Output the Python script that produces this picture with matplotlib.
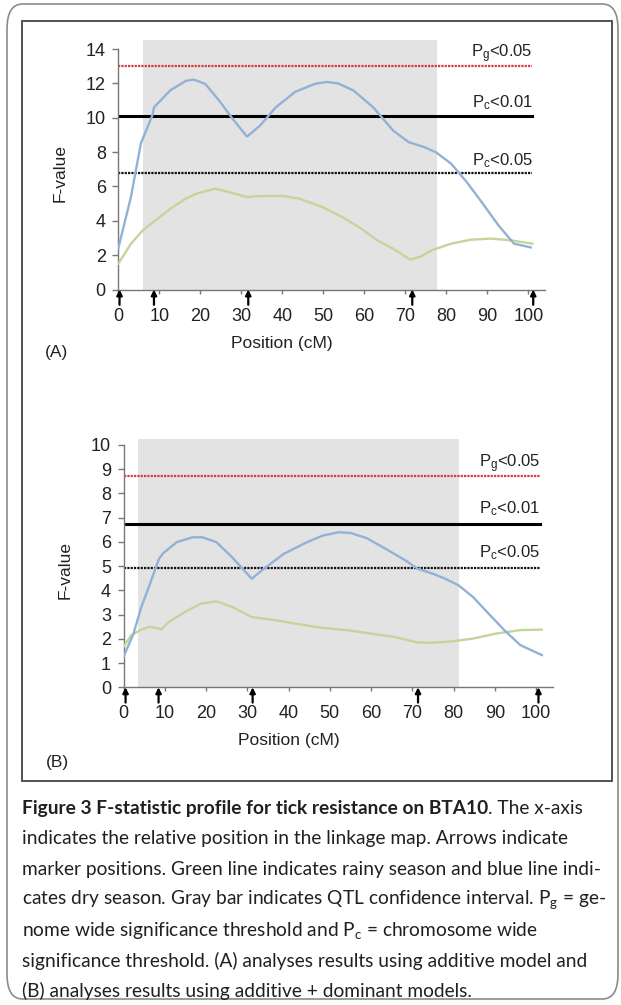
import matplotlib
matplotlib.use("Agg")
import matplotlib.pyplot as plt
from matplotlib.patches import FancyBboxPatch, Rectangle


# DATA
pos_a_blue = [0, 3.1, 5.5, 8.4, 8.7, 12.7, 16.5, 18.4, 21.2, 24.6, 27.9, 31.4, 34.6, 38.4, 43.1,
              47.9, 50.8, 53.6, 57.4, 62.2, 67.0, 70.8, 74.6, 77.4, 81.2, 85.0, 88.9, 92.7, 96.5, 100.6]
f_a_blue = [2.4, 5.4, 8.5, 10.2, 10.6, 11.6, 12.15, 12.22, 11.97, 11.0, 9.93, 8.9, 9.55, 10.6, 11.5,
            11.97, 12.08, 12.0, 11.58, 10.6, 9.26, 8.58, 8.29, 8.0, 7.32, 6.25, 5.0, 3.74, 2.67, 2.45]
pos_a_green = [0, 3.1, 6.0, 8.9, 12.7, 16.5, 19.3, 23.6, 27.0, 31.4, 34.6, 40.3, 44.1, 49.8, 54.6,
               59.3, 63.1, 67.0, 71.2, 73.6, 76.5, 81.2, 86.0, 90.8, 95.5, 101.0]
f_a_green = [1.5, 2.67, 3.45, 4.0, 4.7, 5.3, 5.6, 5.87, 5.67, 5.38, 5.44, 5.44, 5.29, 4.8, 4.22,
             3.54, 2.87, 2.38, 1.74, 1.9, 2.29, 2.67, 2.9, 2.96, 2.87, 2.67]

pos_b_blue = [0, 2.4, 4.3, 6.7, 8.6, 9.6, 12.9, 16.7, 19.1, 22.5, 26.3, 31.1, 34.0, 38.8, 44.5,
              48.3, 52.2, 55.0, 58.9, 63.6, 68.4, 71.3, 75.1, 78.0, 81.3, 84.7, 88.5, 92.3, 96.2, 101.4]
f_b_blue = [1.26, 2.2, 3.3, 4.4, 5.3, 5.53, 5.99, 6.19, 6.19, 5.99, 5.37, 4.48, 4.89, 5.5, 5.99,
            6.26, 6.4, 6.37, 6.16, 5.71, 5.23, 4.89, 4.68, 4.48, 4.2, 3.73, 3.04, 2.36, 1.74, 1.33]
pos_b_green = [0, 1.9, 4.3, 6.2, 8.1, 9.1, 11.0, 14.8, 18.7, 22.5, 26.3, 31.1, 36.8, 42.6, 48.3,
               54.1, 59.8, 65.6, 71.3, 75.1, 79.9, 84.7, 90.4, 96.2, 101.4]
f_b_green = [1.67, 2.15, 2.38, 2.49, 2.45, 2.38, 2.7, 3.1, 3.45, 3.55, 3.32, 2.9, 2.77, 2.6, 2.45,
             2.36, 2.22, 2.08, 1.85, 1.84, 1.9, 2.01, 2.22, 2.36, 2.38]

markers_a = [0.3, 8.7, 31.7, 71.7, 101.2]
markers_b = [0.5, 8.5, 31.3, 71.4, 100.6]

ci_a = (6.0, 77.7, 14.55)   # start, end, top of gray bar
ci_b = (3.4, 81.3, 10.23)

thr_a = {"pg": 13.0, "pc01": 10.1, "pc05": 6.78}
thr_b = {"pg": 8.73, "pc01": 6.74, "pc05": 4.92}

caption_bold = "Figure 3 F-statistic profile for tick resistance on BTA10"
caption_lines = [
    ". The x-axis",
    "indicates the relative position in the linkage map. Arrows indicate",
    "marker positions. Green line indicates rainy season and blue line indi-",
    "cates dry season. Gray bar indicates QTL confidence interval. P$_g$ = ge-",
    "nome wide significance threshold and P$_c$ = chromosome wide",
    "significance threshold. (A) analyses results using additive model and",
    "(B) analyses results using additive + dominant models.",
]

plt.rcParams["font.family"] = ["Liberation Sans", "DejaVu Sans"]
plt.rcParams["mathtext.default"] = "regular"

W, H = 621, 1005
BLUE = "#93b1d6"
GREEN = "#c4d59c"
RED = "#d9383e"
SHADE = "#e3e3e3"
AXC = "#777777"
TXT = "#222222"


def draw_panel(ax, pb, fb, pg, fg, markers, ci, thr, ytop, yticks, label_y):
    ax.set_xlim(0, 104)
    ax.set_ylim(0, ytop)

    ax.add_patch(Rectangle((ci[0], 0), ci[1] - ci[0], ci[2], facecolor=SHADE,
                           edgecolor="none", zorder=0))

    ax.plot([0, 101], [thr["pg"]] * 2, color=RED, lw=1.6, ls=(0, (1, 0.5)), zorder=2)
    ax.plot([0, 101], [thr["pc01"]] * 2, color="black", lw=2.2, zorder=2)
    ax.plot([0, 101], [thr["pc05"]] * 2, color="#111111", lw=1.6, ls=(0, (1, 0.5)), zorder=2)

    ax.plot(pg, fg, color=GREEN, lw=1.7, zorder=3)
    ax.plot(pb, fb, color=BLUE, lw=1.7, zorder=3)

    labels = ["P$_g$<0.05", "P$_c$<0.01", "P$_c$<0.05"]
    for lab, yy in zip(labels, label_y):
        ax.text(101, yy, lab, ha="right", va="center", fontsize=12, color=TXT)

    for m in markers:
        ax.annotate("", xy=(m, 0), xycoords=ax.get_xaxis_transform(),
                    xytext=(0, -11), textcoords="offset points",
                    arrowprops=dict(arrowstyle="-|>", color="black", lw=1.6,
                                    mutation_scale=8, shrinkA=0, shrinkB=0),
                    annotation_clip=False, zorder=5)

    for s in ["top", "right"]:
        ax.spines[s].set_visible(False)
    for s in ["left", "bottom"]:
        ax.spines[s].set_color(AXC)
        ax.spines[s].set_linewidth(1.0)
    ax.spines["left"].set_bounds(0, yticks[-1])
    ax.set_xticks(range(0, 101, 10))
    ax.set_yticks(yticks)
    ax.tick_params(axis="x", length=3, width=1, color=AXC, pad=10, labelsize=13, labelcolor=TXT)
    ax.tick_params(axis="y", length=4, width=1, color=AXC, pad=5, labelsize=13, labelcolor=TXT)
    ax.set_facecolor("none")


fig = plt.figure(figsize=(W / 100, H / 100), dpi=100)

# outer rounded frame and inner box
fig.patches.append(FancyBboxPatch((7 / W, 6 / H), 611 / W, 995 / H,
                                  boxstyle="round,pad=0,rounding_size=0.025",
                                  transform=fig.transFigure, facecolor="none",
                                  edgecolor="#8c8c8c", lw=1.2, zorder=0))
fig.patches.append(Rectangle((22 / W, (H - 781) / H), 589.5 / W, 760 / H,
                             transform=fig.transFigure, facecolor="none",
                             edgecolor="#444444", lw=1.3, zorder=1))

ax_a = fig.add_axes([118.3 / W, (H - 289.5) / H, 426.4 / W, 250.8 / H])
ax_b = fig.add_axes([123.5 / W, (H - 687.3) / H, 429.0 / W, 248.4 / H])

draw_panel(ax_a, pos_a_blue, f_a_blue, pos_a_green, f_a_green, markers_a, ci_a, thr_a,
           14.6, list(range(0, 15, 2)), [13.75, 10.9, 7.5])
draw_panel(ax_b, pos_b_blue, f_b_blue, pos_b_green, f_b_green, markers_b, ci_b, thr_b,
           10.25, list(range(0, 11)), [9.22, 7.38, 5.55])

lab_font = dict(fontsize=12.5, color=TXT, ha="center", va="center")
fig.text(60 / W, (H - 173) / H, "F-value", rotation=90, **lab_font)
fig.text(65 / W, (H - 570) / H, "F-value", rotation=90, **lab_font)
fig.text(282 / W, (H - 343) / H, "Position (cM)", **lab_font)
fig.text(289 / W, (H - 740) / H, "Position (cM)", **lab_font)
fig.text(57 / W, (H - 353) / H, "(A)", **lab_font)
fig.text(57 / W, (H - 762) / H, "(B)", **lab_font)

# caption
cap_font = dict(family=["Lato", "DejaVu Sans"], fontsize=13.8, color="#231f20", va="center")
line_y = [808, 838.5, 869, 899.5, 930, 960.5, 991]
r = fig.canvas.get_renderer()
t = fig.text(22 / W, (H - line_y[0]) / H, caption_bold, weight="bold", **cap_font)
bb = t.get_window_extent(renderer=r)
fig.text(bb.x1 / W, (H - line_y[0]) / H, caption_lines[0], **cap_font)
for ly, txt in zip(line_y[1:], caption_lines[1:]):
    fig.text(22 / W, (H - ly) / H, txt, **cap_font)

fig.savefig("out.png", dpi=100)
